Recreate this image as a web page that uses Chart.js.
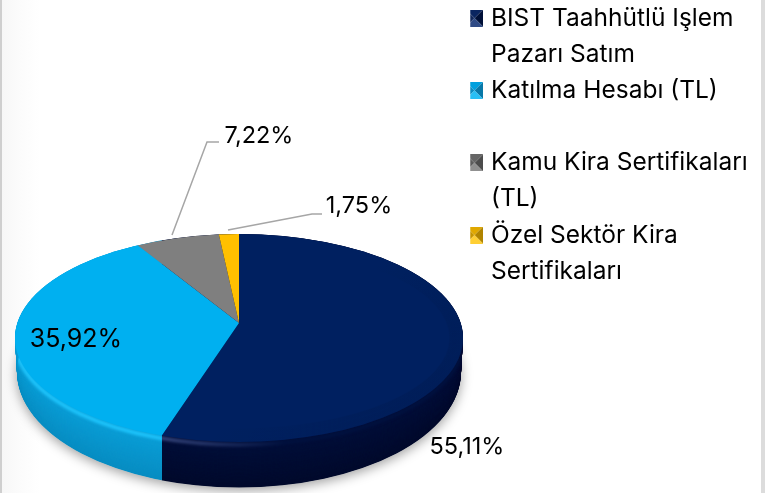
<!DOCTYPE html>
<html><head><meta charset="utf-8">
<script src="https://cdn.jsdelivr.net/npm/chart.js@4/dist/chart.umd.min.js"></script>
<style>
html,body{margin:0;padding:0;width:765px;height:493px;overflow:hidden;background:#fff}
#bg{position:absolute;left:0;top:0;width:765px;height:493px;
background:linear-gradient(90deg,#cfcfcf 0,#cfcfcf 2px,#f7f7f7 2px,#fbfbfb 18px,#fff 40px,#fff 761px,#dcdcdc 761px,#dcdcdc 765px)}
#wrap{position:absolute;left:0;top:0;width:765px;height:493px}
</style></head><body>
<div id="bg"></div><div id="wrap"><canvas id="c" width="765" height="493"></canvas></div>
<script>
const categories = [['BİST Taahhütlü İşlem','Pazarı Satım'],['Katılma Hesabı (TL)',''],['Kamu Kira Sertifikaları','(TL)'],['Özel Sektör Kira','Sertifikaları']];
const shareValues = [55.11, 35.92, 7.22, 1.75];
const sliceColors = ['#002060','#00B0F0','#7F7F7F','#FFC000'];

const FONT = 'Inter, "Open Sans", sans-serif';
// wall colours per slice: rim start, rim end, upper wall, lower wall
const wallColors = [['#3c4c84','#00113f','#000f3a','#000a2c'],['#20c8ff','#20c8ff','#0a9fd8','#088dc2'],['#666','#666','#666','#555'],['#c90','#c90','#c90','#a80']];
const iconShades = [['#0a2560','#12285c','#001038','#2f4a85'],['#00a0de','#0c8cc2','#0878a8','#28bff5'],['#666666','#5c5c5c','#4c4c4c','#909090'],['#e0a800','#c79500','#b08400','#ffcf33']];
// projection of the flat pie onto the tilted disc
const apex = {x:239, y:323}, tilt = 0.485, faceReach = 313;
const topE = {cx:239, cy:338, rx:224, ry:104};
const botE = {cx:239, cy:372, rx:222, ry:115.5};
const labelSpots = [
 {x:467,y:447,size:23.5},{x:76,y:339,size:25},{x:259,y:136,size:23.5},{x:359,y:206,size:23.5}];
const leaders = [null,null,[[172,235],[207,142],[219,142]],[[228,230],[312,214],[322,214]]];

function makeIcon(sh){
  const c=document.createElement('canvas');c.width=17;c.height=17;
  const x=c.getContext('2d');
  const tris=[[[0,0],[17,0]],[[0,0],[0,17]],[[17,0],[17,17]],[[0,17],[17,17]]];
  tris.forEach((t,i)=>{x.fillStyle=sh[i];x.beginPath();x.moveTo(8.5,8.5);x.lineTo(t[0][0],t[0][1]);x.lineTo(t[1][0],t[1][1]);x.closePath();x.fill();});
  return c;
}
const icons = iconShades.map(makeIcon);

function lerpE(t){return {cx:topE.cx+(botE.cx-topE.cx)*t,cy:topE.cy+(botE.cy-topE.cy)*t,rx:topE.rx+(botE.rx-topE.rx)*t,ry:topE.ry+(botE.ry-topE.ry)*t};}
function ell(ctx,e){ctx.beginPath();ctx.ellipse(e.cx,e.cy,e.rx,e.ry,0,0,Math.PI*2);ctx.closePath();}
function rim(a){ // where a slice edge meets the disc outline
  const dx=Math.cos(a),dy=tilt*Math.sin(a),ox=apex.x-topE.cx,oy=apex.y-topE.cy;
  const A=dx*dx/(topE.rx*topE.rx)+dy*dy/(topE.ry*topE.ry);
  const B=2*(ox*dx/(topE.rx*topE.rx)+oy*dy/(topE.ry*topE.ry));
  const C=ox*ox/(topE.rx*topE.rx)+oy*oy/(topE.ry*topE.ry)-1;
  const t=(-B+Math.sqrt(B*B-4*A*C))/(2*A);
  return {x:apex.x+dx*t,y:apex.y+dy*t};
}
function mix(a,b,t){const p=s=>{s=s.replace('#','');if(s.length==3)s=s.split('').map(c=>c+c).join('');return [0,2,4].map(i=>parseInt(s.substr(i,2),16));};
  const A=p(a),B=p(b);return `rgb(${A.map((v,i)=>Math.round(v+(B[i]-v)*t)).join(',')})`;}

const disc3d = {
  id:'disc3d',
  afterLayout(chart){ chart.legend.left=470.25; chart.legend.top=6; },
  beforeDatasetsDraw(chart){
    const ctx=chart.ctx, arcs=chart.getDatasetMeta(0).data;
    ctx.save();
    // ground shadow
    ctx.save();ctx.shadowColor='rgba(0,0,0,0.38)';ctx.shadowBlur=12;ctx.shadowOffsetY=3;ctx.fillStyle='#ddd';ell(ctx,botE);ctx.fill();ctx.restore();
    // side wall
    arcs.forEach((el,i)=>{
      const a0=el.startAngle,a1=el.endAngle,p0=rim(a0),p1=rim(a1);
      const low0=p0.y>topE.cy,low1=p1.y>topE.cy;
      const spans=a0<Math.PI/2&&a1>Math.PI/2;
      if(!low0&&!low1&&!spans)return;
      const xr=low0?p0.x:topE.cx+topE.rx+5,xl=low1?p1.x:topE.cx-topE.rx-5;
      ctx.save();ctx.beginPath();ctx.rect(xl,0,xr-xl,chart.height);ctx.clip();
      const wc=wallColors[i];
      for(let s=80;s>=0;s--){const t=s/80;
        ctx.fillStyle=mix(wc[2],wc[3],t);
        ell(ctx,lerpE(t));ctx.fill();}
      // blurred highlight along the top edge of the wall
      const g=ctx.createLinearGradient(xl,0,xr,0);
      g.addColorStop(0,wc[0]);g.addColorStop(.4,wc[1]);g.addColorStop(1,wc[1]);
      ctx.save();ell(ctx,botE);ctx.clip();
      ctx.filter='blur(1.6px)';ctx.strokeStyle=g;ctx.lineWidth=3.5;
      ell(ctx,lerpE(.06));ctx.stroke();ctx.restore();
      ctx.restore();
    });
    // top face: the library's own arcs, clipped to the disc
    const el=arcs[0],sx=faceReach/el.outerRadius;
    ell(ctx,topE);ctx.clip();
    ctx.transform(sx,0,0,sx*tilt,apex.x-sx*el.x,apex.y-sx*tilt*el.y);
  },
  afterDatasetsDraw(chart){
    const ctx=chart.ctx;
    ctx.restore();
    // soft bevel on the lower right
    ctx.save();ell(ctx,topE);ctx.clip();
    const g=ctx.createLinearGradient(330,300,445,410);
    g.addColorStop(0,'rgba(0,0,20,0)');g.addColorStop(1,'rgba(0,0,20,0.07)');
    ctx.strokeStyle=g;ctx.lineWidth=1.5;
    for(let i=0;i<14;i++){ctx.beginPath();ctx.ellipse(topE.cx,topE.cy,topE.rx-i,topE.ry-i,0,0,Math.PI*2);ctx.stroke();}
    ctx.restore();
    // leader lines
    ctx.save();ctx.strokeStyle='#a6a6a6';ctx.lineWidth=1.5;
    leaders.forEach(l=>{if(!l)return;ctx.beginPath();l.forEach((p,i)=>i?ctx.lineTo(p[0],p[1]):ctx.moveTo(p[0],p[1]));ctx.stroke();});
    // value labels
    ctx.fillStyle='#000';ctx.textAlign='center';ctx.textBaseline='middle';
    shareValues.forEach((v,i)=>{const s=labelSpots[i];
      ctx.font=`400 ${s.size}px ${FONT}`;
      ctx.fillText(v.toFixed(2).replace('.',',')+'%',s.x,s.y);});
    ctx.restore();
  }
};

new Chart(document.getElementById('c'),{
  type:'pie',
  data:{labels:categories,datasets:[{data:shareValues,backgroundColor:sliceColors,borderWidth:0,hoverOffset:0}]},
  options:{
    responsive:false,animation:false,events:[],
    plugins:{
      tooltip:{enabled:false},
      legend:{position:'right',align:'start',
        labels:{color:'#595959',padding:0,boxWidth:8.5,boxHeight:17,usePointStyle:true,pointStyleWidth:8.5,
          font:{family:FONT,size:24.5,lineHeight:36.15/24.5,weight:'400'},
          generateLabels(){return categories.map((t,i)=>({text:t,fillStyle:sliceColors[i],strokeStyle:sliceColors[i],lineWidth:0,pointStyle:icons[i],index:i,hidden:false}));}
        }}
    }
  },
  plugins:[disc3d]
});
</script></body></html>
